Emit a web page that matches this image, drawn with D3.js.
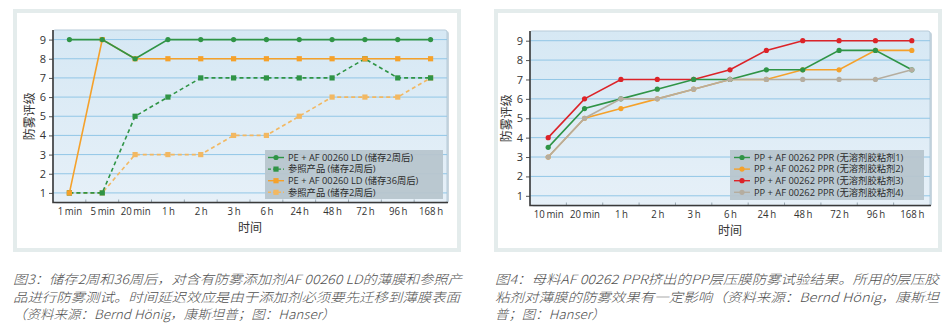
<!DOCTYPE html>
<html><head><meta charset="utf-8">
<script src="https://cdn.jsdelivr.net/npm/d3@7"></script>
<style>
html,body{margin:0;padding:0;background:#fff;}
svg{display:block;}
</style></head>
<body>
<svg id="chart" width="947" height="333"></svg>
<script>
// ---------- DATA ----------
const catsA = ["1 min","5 min","20 min","1 h","2 h","3 h","6 h","24 h","48 h","72 h","96 h","168 h"];
const a_pe2w   = [9,9,8,9,9,9,9,9,9,9,9,9];
const a_ref2w  = [1,1,5,6,7,7,7,7,7,8,7,7];
const a_pe36w  = [1,9,8,8,8,8,8,8,8,8,8,8];
const a_ref2wB = [1,1,3,3,3,4,4,5,6,6,6,7];
const namesA = ["PE + AF 00260 LD (储存2周后)","参照产品 (储存2周后)","PE + AF 00260 LD (储存36周后)","参照产品 (储存2周后)"];

const catsB = ["10 min","20 min","1 h","2 h","3 h","6 h","24 h","48 h","72 h","96 h","168 h"];
const b_adh1 = [3.5,5.5,6,6.5,7,7,7.5,7.5,8.5,8.5,7.5];
const b_adh2 = [3,5,5.5,6,6.5,7,7,7.5,7.5,8.5,8.5];
const b_adh3 = [4,6,7,7,7,7.5,8.5,9,9,9,9];
const b_adh4 = [3,5,6,6,6.5,7,7,7,7,7,7.5];
const namesB = ["PP + AF 00262 PPR (无溶剂胶粘剂1)","PP + AF 00262 PPR (无溶剂胶粘剂2)","PP + AF 00262 PPR (无溶剂胶粘剂3)","PP + AF 00262 PPR (无溶剂胶粘剂4)"];

const yTicks = [1,2,3,4,5,6,7,8,9];
const yTitle = "防雾评级";
const xTitle = "时间";

const captionA = ["图3：储存2周和36周后，对含有防雾添加剂AF 00260 LD的薄膜和参照产",
                  "品进行防雾测试。时间延迟效应是由于添加剂必须要先迁移到薄膜表面",
                  "（资料来源：Bernd Hönig，康斯坦普；图：Hanser）"];
const captionB = ["图4：母料AF 00262 PPR挤出的PP层压膜防雾试验结果。所用的层压胶",
                  "粘剂对薄膜的防雾效果有一定影响（资料来源：Bernd Hönig，康斯坦",
                  "普；图：Hanser）"];

// ---------- DRAW ----------
const svg = d3.select("#chart");
const FONT = "'Open Sans','Noto Sans CJK SC',sans-serif";
const LFONT = "'Open Sans','Noto Sans CJK SC',sans-serif";
const defs = svg.append("defs");
const grad = defs.append("linearGradient").attr("id","plotbg").attr("x1",0).attr("y1",0).attr("x2",0).attr("y2",1);
grad.append("stop").attr("offset","0%").attr("stop-color","#d6e8f4");
grad.append("stop").attr("offset","100%").attr("stop-color","#e6f0f8");

const GREEN="#2f9446", ORANGE="#f5a12a", LORANGE="#f2b862", RED="#dc2328", GRAY="#b5ad9f";

function panel(cfg){
  const g = svg.append("g");
  g.append("rect").attr("x",cfg.box[0]).attr("y",cfg.box[1]).attr("width",cfg.box[2]).attr("height",cfg.box[3])
    .attr("fill","#fff").attr("stroke","#e4ecec").attr("stroke-width",4);
  const [L,T,R,B] = cfg.plot;
  const x = d3.scalePoint().domain(cfg.cats).range([L,R]).padding(0.5);
  const y = d3.scaleLinear().domain([0.5,9.5]).range([B,T]);
  g.append("rect").attr("x",L+1).attr("y",T+1).attr("width",R-L+1).attr("height",B-T)
    .attr("rx",3).attr("fill","#c9d6df");
  g.append("rect").attr("x",L).attr("y",T).attr("width",R-L).attr("height",B-T)
    .attr("rx",2).attr("fill","url(#plotbg)").attr("stroke","#b7cbd9").attr("stroke-width",1);
  g.selectAll(".grid").data(cfg.yTicks).enter().append("line")
    .attr("x1",L).attr("x2",R).attr("y1",d=>y(d)).attr("y2",d=>y(d))
    .attr("stroke","#92c6e6").attr("stroke-width",1);
  const yAxis = d3.axisLeft(y).tickValues(cfg.yTicks).tickSize(4).tickPadding(3);
  const ya = g.append("g").attr("transform",`translate(${L},0)`).call(yAxis);
  ya.select(".domain").remove();
  ya.selectAll(".tick line").attr("stroke","#555");
  ya.selectAll("text").attr("font-family",LFONT).attr("font-size",11).attr("fill","#333");
  const step = x.step();
  const xAxis = d3.axisBottom(x).tickSize(0).tickPadding(5);
  const xa = g.append("g").attr("transform",`translate(0,${B})`).call(xAxis);
  xa.select(".domain").remove();
  xa.selectAll("text").attr("font-family",FONT).attr("font-size",11.2).attr("fill","#333")
    .attr("transform","scale(0.86,1)").attr("word-spacing","-1px");
  g.selectAll(".xt").data(cfg.cats.slice(1)).enter().append("line")
    .attr("x1",d=>x(d)-step/2).attr("x2",d=>x(d)-step/2).attr("y1",B-3).attr("y2",B)
    .attr("stroke","#9aa9b3").attr("stroke-width",1);
  g.append("path").attr("d",`M${L},${T}V${B}H${R+1}`).attr("fill","none").attr("stroke","#3a3a3a").attr("stroke-width",1.6);
  g.append("text").attr("x",(L+R)/2).attr("y",B+29).attr("text-anchor","middle")
    .attr("font-family",LFONT).attr("font-size",12).attr("fill","#333").text(cfg.xTitle);
  g.append("text").attr("transform",`translate(${L-19},${(T+B)/2}) rotate(-90)`).attr("text-anchor","middle")
    .attr("font-family",LFONT).attr("font-size",12).attr("fill","#333").text(cfg.yTitle);
  const line = d3.line().x((d,i)=>x(cfg.cats[i])).y(d=>y(d));
  cfg.series.forEach(s=>{
    g.append("path").attr("d",line(s.values)).attr("fill","none").attr("stroke",s.color)
      .attr("stroke-width",s.width||1.6).attr("stroke-dasharray",s.dash||null);
    drawMarks(g, s, s.values.map((v,i)=>[x(cfg.cats[i]),y(v)]));
  });
  const [lx,ly,lw,lh] = cfg.legend;
  g.append("rect").attr("x",lx).attr("y",ly).attr("width",lw).attr("height",lh).attr("fill","#b7c5ce").attr("opacity",0.95);
  cfg.legendOrder.forEach((s,i)=>{
    const yy = ly+7.5+i*11.6;
    g.append("line").attr("x1",lx+cfg.legSample[0]).attr("x2",lx+cfg.legSample[1]).attr("y1",yy).attr("y2",yy)
      .attr("stroke",s.color).attr("stroke-width",1.4).attr("stroke-dasharray",s.dash?"3,2":null);
    drawMarks(g, s, [[lx+(cfg.legSample[0]+cfg.legSample[1])/2, yy]]);
    g.append("text").attr("x",lx+cfg.legText).attr("y",yy).attr("dy","0.35em")
      .attr("font-family",LFONT).attr("font-size",9.3).attr("fill","#2b2b2b").text(s.name);
  });
  cfg.caption.forEach((t,i)=>{
    g.append("text").attr("x",cfg.capX).attr("y",284+i*17.7)
      .attr("font-family","'Noto Sans CJK SC','Open Sans',sans-serif").attr("font-style","italic")
      .attr("font-size",12.8).attr("fill","#505050").attr("font-weight",300)
      .attr("textLength",cfg.capW[i]).attr("lengthAdjust","spacingAndGlyphs").text(t);
  });
}
function drawMarks(g,s,pts){
  if(s.marker==="square"){
    g.selectAll(null).data(pts).enter().append("rect")
      .attr("x",d=>d[0]-2.6).attr("y",d=>d[1]-2.6).attr("width",5.2).attr("height",5.2).attr("fill",s.color);
  } else {
    g.selectAll(null).data(pts).enter().append("circle")
      .attr("cx",d=>d[0]).attr("cy",d=>d[1]).attr("r",s.r||2.6).attr("fill",s.color);
  }
}

const serA = [
  {name:namesA[3], values:a_ref2wB, color:LORANGE, dash:"4,3", marker:"square"},
  {name:namesA[1], values:a_ref2w, color:GREEN, dash:"4,3", marker:"square"},
  {name:namesA[2], values:a_pe36w, color:ORANGE, marker:"square"},
  {name:namesA[0], values:a_pe2w, color:GREEN, marker:"circle"}
];
panel({
  box:[15,11,444,239], plot:[53,30,447,202.5], cats:catsA, yTicks, xTitle, yTitle,
  series:serA, legendOrder:[serA[3],serA[1],serA[2],serA[0]],
  legend:[265,150,178,49], legSample:[3,19], legText:23, caption:captionA, capX:13, capW:[449,447,322]
});
const serB = [
  {name:namesB[1], values:b_adh2, color:ORANGE, marker:"circle"},
  {name:namesB[2], values:b_adh3, color:RED, marker:"circle"},
  {name:namesB[0], values:b_adh1, color:GREEN, marker:"circle"},
  {name:namesB[3], values:b_adh4, color:GRAY, marker:"circle"}
];
panel({
  box:[496,11,444,239], plot:[530,31,930,205.5], cats:catsB, yTicks, xTitle, yTitle,
  series:serB, legendOrder:[serB[2],serB[0],serB[1],serB[3]],
  legend:[730,150,194,50], legSample:[4,20], legText:24, caption:captionB, capX:495, capW:[444,444,110]
});
</script>
</body></html>
